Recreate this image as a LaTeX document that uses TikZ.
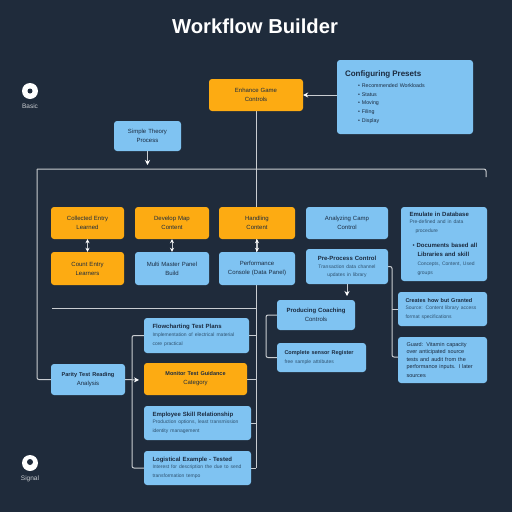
\documentclass[tikz,border=0pt]{standalone}
\usepackage{fontspec}
\setmainfont{Liberation Sans}
\usetikzlibrary{arrows.meta,backgrounds}
\definecolor{bgc}{HTML}{1F2B3B}
\definecolor{bluec}{HTML}{7FC3F2}
\definecolor{orangec}{HTML}{FDAB12}
\definecolor{inkc}{HTML}{1B2B40}
\definecolor{subc}{HTML}{2F5270}
\definecolor{linec}{HTML}{C9CDD1}
\newcommand{\flowbox}[7][]{%
  \node[#2,minimum width={(#5-#3)*1pt},minimum height={(#6-#4)*1pt},text width={(#5-#3-12)*1pt},#1] (#7) at ({(#3+#5)/2},{(#4+#6)/2})}
\newcommand{\hd}{\fontsize{6}{9}\selectfont\bfseries}
\newcommand{\hdn}{\fontsize{5.5}{9}\selectfont\bfseries}
\newcommand{\sm}{\fontsize{5}{7.5}\selectfont\color{subc}}
\tikzset{
  base/.style={rounded corners=3pt,inner sep=0pt,text=inkc,align=center,font=\fontsize{6}{9}\selectfont},
  bluebox/.style={base,fill=bluec},
  orangebox/.style={base,fill=orangec},
  leftbox/.style={align=left},
  wire/.style={draw=linec,line width=1pt},
  tip/.style={wire,-{Stealth[length=5pt,width=5pt,color=white]}},
  both/.style={wire,{Stealth[length=4pt,width=4pt,color=white]}-{Stealth[length=4pt,width=4pt,color=white]}},
  sidelabel/.style={text=linec,font=\fontsize{6.5}{8}\selectfont,inner sep=0pt},
  badge/.style={circle,fill=white,minimum size=16pt,inner sep=0pt}
}
\begin{document}
\begin{tikzpicture}[x=1pt,y=-1pt]
\useasboundingbox (0,0) rectangle (512,512);
\node[text=white,font=\fontsize{20.2}{24}\selectfont\bfseries,inner sep=0pt] (title) at (255,26) {Workflow Builder};
% icons
\node[badge] (icona) at (30,91) {};
\node[circle,fill=bgc,minimum size=5pt,inner sep=0pt] (iconadot) at (30,91) {};
\node[sidelabel] (labela) at (30,106) {Basic};
\node[badge] (iconb) at (30,463) {};
\node[circle,fill=bgc,minimum size=6pt,inner sep=0pt] (iconbdot) at (30,462) {};
\node[sidelabel] (labelb) at (30,479) {Signal};
% boxes
\flowbox{orangebox}{209}{79}{303}{111}{top} {Enhance Game\\Controls};
\flowbox[leftbox,text width=120pt]{bluebox}{337}{60}{473}{134}{cfg} {{\fontsize{8}{11}\selectfont\bfseries Configuring Presets}\\[3pt]
  \fontsize{5.3}{8.5}\selectfont\hspace*{13pt}• Recommended Workloads\\\hspace*{13pt}• Status\\\hspace*{13pt}• Moving\\\hspace*{13pt}• Filing\\\hspace*{13pt}• Display};
\flowbox{bluebox}{114}{121}{181}{151}{simple} {Simple Theory\\Process};
\flowbox{orangebox}{51}{207}{124}{239}{oa} {Collected Entry\\Learned};
\flowbox{orangebox}{135}{207}{209}{239}{ob} {Develop Map\\Content};
\flowbox{orangebox}{219}{207}{295}{239}{oc} {Handling\\Content};
\flowbox{orangebox}{51}{252}{124}{285}{pa} {Count Entry\\Learners};
\flowbox{bluebox}{135}{252}{209}{285}{pb} {Multi Master Panel\\Build};
\flowbox{bluebox}{219}{252}{295}{285}{pc} {Performance\\Console (Data Panel)};
\flowbox{bluebox}{306}{207}{388}{239}{mg} {Analyzing Camp\\Control};
\flowbox{bluebox}{306}{249}{388}{284}{pre} {{\hd Pre-Process Control}\\[-1pt]{\sm Transaction data channel}\\[-1pt]{\sm updates in library}};
\flowbox[leftbox,text width=69pt]{bluebox}{401}{207}{487}{281}{big} {{\hd Emulate in Database}\\{\sm Pre-defined and in data\\\hspace*{6pt}procedure}\\[6pt]\hspace*{3pt}• {\hd Documents based all}\\\hspace*{8pt}{\hd Libraries and skill}\\\hspace*{8pt}{\sm Concepts, Content, Used}\\\hspace*{8pt}{\sm groups}};
\flowbox{bluebox}{277}{300}{355}{330}{pred} {{\bfseries Producing Coaching}\\Controls};
\flowbox[leftbox,text width=74pt]{bluebox}{277}{343}{366}{372}{small} {{\hdn Complete sensor Register}\\{\sm free sample attributes}};
\flowbox[leftbox,text width=74pt]{bluebox}{398}{292}{487}{326}{rb} {{\hdn Creates how but Granted}\\{\sm Source: Content library access\\format specifications}};
\flowbox[leftbox,text width=72pt]{bluebox}{398}{337}{487}{383}{rc} {\fontsize{5.5}{7.4}\selectfont Guard: Vitamin capacity\\over anticipated source\\tests and audit from the\\performance inputs. I later\\sources};
\flowbox{bluebox}{51}{364}{125}{395}{entry} {{\fontsize{5.6}{9}\selectfont\bfseries Parity Test Reading}\\Analysis};
\flowbox[leftbox,text width=88pt]{bluebox}{144}{318}{249}{353}{ba} {{\hd Flowcharting Test Plans}\\{\sm Implementation of electrical material\\core practical}};
\flowbox{orangebox}{144}{363}{247}{395}{bb} {{\fontsize{5.5}{9}\selectfont\bfseries Monitor Test Guidance}\\Category};
\flowbox[leftbox,text width=90pt]{bluebox}{144}{406}{251}{440}{bc} {{\hd Employee Skill Relationship}\\{\sm Production options, least transmission\\identity management}};
\flowbox[leftbox,text width=90pt]{bluebox}{144}{451}{251}{485}{bd} {{\hd Logistical Example - Tested}\\{\sm Interest for description the due to send\\transformation tempo}};
% free ends of connectors
\coordinate (hleft) at (37,169);
\coordinate (hright) at (486,169);
\coordinate (hdrop) at (486,177);
\coordinate (mleft) at (52,308);
\coordinate (simpletip) at (147.5,165);
\coordinate (pretip) at (347,296);
\coordinate (entrytip) at (139,380);
\coordinate (lbrk) at (132,380);
\coordinate (pbrk) at (266,336);
\coordinate (rbrk) at (392,310);
\begin{scope}[on background layer]
\fill[bgc] (0,0) rectangle (512,512);
\draw[wire] (top.south) -- (top.south |- bd.east);
\draw[wire,rounded corners=2pt] (hleft) -- (hright) -- (hdrop);
\draw[wire,rounded corners=2pt] (hleft) |- (entry.west);
\draw[wire] (mleft) -- (mleft -| top.south);
\draw[wire,rounded corners=2pt] (ba.west) -| (lbrk) |- (bd.west);
\draw[wire] (ba.east) -- (ba.east -| top.south);
\draw[wire] (bb.east) -- (bb.east -| top.south);
\draw[wire] (bc.east) -- (bc.east -| top.south);
\draw[wire] (bd.east) -- (bd.east -| top.south);
\draw[wire,rounded corners=2pt] (pred.west) -| (pbrk) |- (small.west);
\draw[wire,rounded corners=2pt] (pre.east) -| (rbrk) |- ([yshift=3pt]rc.west);
\draw[wire] (rbrk |- rb.west) -- (rb.west);
\end{scope}
\draw[tip] (cfg.west |- top.east) -- (top.east);
\draw[tip] (simple.south) -- (simpletip);
\draw[tip] (pre.south) -- (pretip);
\draw[tip] (entry.east) -- (entrytip);
\draw[both] (oa.south) -- (pa.north);
\draw[both] (ob.south) -- (pb.north);
\draw[both] (oc.south) -- (pc.north);
\end{tikzpicture}
\end{document}
